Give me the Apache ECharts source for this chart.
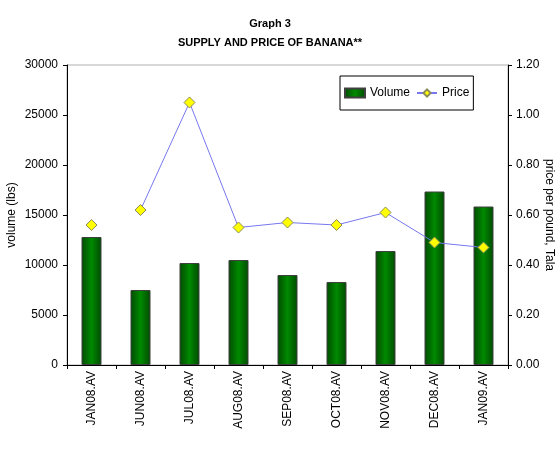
<!DOCTYPE html>
<html><head><meta charset="utf-8">
<script src="https://cdn.jsdelivr.net/npm/echarts@6/dist/echarts.min.js"></script>
<style>html,body{margin:0;padding:0;background:#fff}#c{width:558px;height:449px}</style>
</head><body><div id="c"></div>
<script>
const categories = ['JAN08.AV','JUN08.AV','JUL08.AV','AUG08.AV','SEP08.AV','OCT08.AV','NOV08.AV','DEC08.AV','JAN09.AV'];
const volume = [12800, 7500, 10200, 10500, 9000, 8300, 11400, 17350, 15850];
const price = [0.56, 0.62, 1.05, 0.55, 0.57, 0.56, 0.61, 0.49, 0.47];
const leftTicks = [0, 5000, 10000, 15000, 20000, 25000, 30000];
const rightTicks = [0, 0.2, 0.4, 0.6, 0.8, 1.0, 1.2];

const FONT = "'Liberation Sans', Arial, sans-serif";
const chart = echarts.init(document.getElementById('c'), null, {renderer: 'canvas'});
// Price line starts at the 2nd category (first point unconnected, as in the source)
const priceLine = price.map((v, i) => i === 0 ? '-' : v);
const priceLone = price.map((v, i) => i === 0 ? v : '-');
const diamondStyle = {color: '#ffff00', borderColor: '#8c8c5a', borderWidth: 1};
chart.setOption({
  animation: false,
  textStyle: {fontFamily: FONT},
  title: {
    text: 'Graph 3\nSUPPLY AND PRICE OF BANANA**',
    left: 265, top: 9, textAlign: 'center',
    textStyle: {fontFamily: FONT, fontSize: 11, fontWeight: 'bold', color: '#000', lineHeight: 19}
  },
  legend: {
    left: 340, top: 76,
    padding: [11, 4, 11, 4],
    borderColor: '#000', borderWidth: 1,
    itemGap: 6, itemWidth: 20, itemHeight: 9, itemTextGap: 3,
    textStyle: {fontFamily: FONT, fontSize: 12, color: '#000'},
    data: [
      {name: 'Volume', icon: 'rect'},
      {name: 'Price'}
    ]
  },
  grid: {left: 67, right: 50, top: 65, bottom: 84, show: true, borderColor: '#b0b0b0', borderWidth: 1,
    containLabel: false, outerBoundsMode: 'none'},
  xAxis: {
    type: 'category', data: categories,
    axisLine: {lineStyle: {color: '#000', width: 1}},
    axisTick: {show: true, length: 4, lineStyle: {color: '#000'}},
    axisLabel: {rotate: 90, margin: 6, fontFamily: FONT, fontSize: 12, color: '#000'},
    splitLine: {show: false}
  },
  yAxis: [
    {
      type: 'value', min: 0, max: 30000, interval: 5000,
      name: 'volume (lbs)', nameLocation: 'middle', nameGap: 49, nameMoveOverlap: false,
      nameTextStyle: {fontFamily: FONT, fontSize: 12, color: '#000'},
      axisLine: {show: true, lineStyle: {color: '#000'}},
      axisTick: {show: true, length: 4, lineStyle: {color: '#000'}},
      axisLabel: {margin: 9, fontFamily: FONT, fontSize: 12, color: '#000',
        formatter: v => leftTicks.includes(v) ? String(v) : ''},
      splitLine: {show: false}
    },
    {
      type: 'value', min: 0, max: 1.2, interval: 0.2, position: 'right',
      name: 'price per pound, Tala', nameLocation: 'middle', nameGap: 35, nameRotate: -90, nameMoveOverlap: false,
      nameTextStyle: {fontFamily: FONT, fontSize: 12, color: '#000'},
      axisLine: {show: true, lineStyle: {color: '#000'}},
      axisTick: {show: true, length: 4, lineStyle: {color: '#000'}},
      axisLabel: {margin: 8, fontFamily: FONT, fontSize: 12, color: '#000',
        formatter: v => rightTicks.some(t => Math.abs(t - v) < 1e-9) ? v.toFixed(2) : ''},
      splitLine: {show: false}
    }
  ],
  series: [
    {
      name: 'Volume', type: 'bar', data: volume, barWidth: 20, yAxisIndex: 0,
      itemStyle: {
        color: new echarts.graphic.LinearGradient(0, 0, 1, 0, [
          {offset: 0, color: '#004a00'},
          {offset: 0.5, color: '#008a00'},
          {offset: 1, color: '#004a00'}
        ]),
        borderColor: '#404040', borderWidth: 1
      }
    },
    {
      name: 'Price', type: 'line', data: priceLine, yAxisIndex: 1,
      symbol: 'diamond', symbolSize: 11, connectNulls: false,
      lineStyle: {color: '#7777ee', width: 1},
      itemStyle: diamondStyle, z: 5
    },
    {
      name: 'Price', type: 'line', data: priceLone, yAxisIndex: 1,
      symbol: 'diamond', symbolSize: 11, showAllSymbol: true,
      lineStyle: {color: '#7777ee', width: 1},
      itemStyle: diamondStyle, z: 5
    }
  ]
});
</script></body></html>
